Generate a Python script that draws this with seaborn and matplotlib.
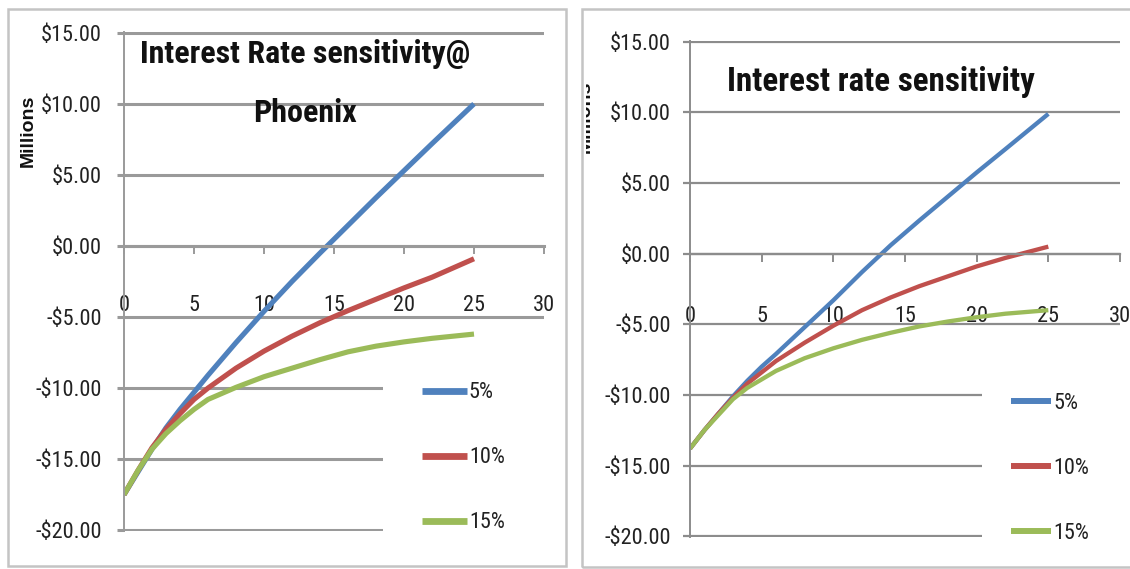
import matplotlib
matplotlib.use("Agg")
import matplotlib.pyplot as plt
import pandas as pd
import seaborn as sns
from matplotlib.lines import Line2D
from matplotlib.patches import Rectangle
from matplotlib.ticker import FuncFormatter, MultipleLocator
from matplotlib.transforms import Bbox

# Years on the horizontal axis
years = [0, 1, 2, 3, 4, 5, 6, 8, 10, 12, 14, 16, 18, 20, 22, 25]
rates = ["5%", "10%", "15%"]
colors = ["#4F81BD", "#C0504D", "#9BBB59"]

# Phoenix (millions of dollars)
phx_5 = [-17.5, -15.9, -14.3, -12.8, -11.5, -10.3, -9.1, -6.8, -4.6, -2.5, -0.5, 1.45, 3.4, 5.3, 7.2, 10.0]
phx_10 = [-17.5, -15.8, -14.2, -12.9, -11.8, -10.8, -10.0, -8.6, -7.4, -6.35, -5.4, -4.55, -3.75, -2.95, -2.2, -0.9]
phx_15 = [-17.5, -15.8, -14.3, -13.2, -12.3, -11.5, -10.8, -9.95, -9.2, -8.6, -8.0, -7.45, -7.05, -6.75, -6.5, -6.2]

# General case (millions of dollars)
gen_5 = [-13.8, -12.5, -11.3, -10.1, -9.0, -8.0, -7.1, -5.2, -3.3, -1.3, 0.6, 2.35, 4.05, 5.75, 7.4, 9.9]
gen_10 = [-13.8, -12.5, -11.3, -10.2, -9.2, -8.4, -7.6, -6.3, -5.1, -4.0, -3.1, -2.3, -1.6, -0.9, -0.3, 0.5]
gen_15 = [-13.8, -12.5, -11.4, -10.3, -9.5, -8.9, -8.3, -7.4, -6.7, -6.1, -5.6, -5.15, -4.8, -4.5, -4.25, -4.0]

titles = ["Interest Rate sensitivity@\nPhoenix", "Interest rate sensitivity"]
ylabel = "Millions"


def long_frame(series):
    rows = []
    for rate, vals in zip(rates, series):
        for yr, v in zip(years, vals):
            rows.append({"year": yr, "value": v, "rate": rate})
    return pd.DataFrame(rows)


sns.set_theme(style="white")
narrow = ["Roboto Condensed", "Liberation Sans Narrow", "Liberation Sans", "DejaVu Sans"]
plt.rcParams["font.family"] = narrow

W, H = 1130, 569
fig = plt.figure(figsize=(W / 100, H / 100), dpi=100)
renderer = fig.canvas.get_renderer()


def px_rect(x0, y0, x1, y1):
    """Pixel box (top-left origin) -> figure fraction [l, b, w, h]."""
    return [x0 / W, 1 - y1 / H, (x1 - x0) / W, (y1 - y0) / H]


def money(v, pos):
    return f"-${abs(v):.2f}" if v < -1e-9 else f"${abs(v):.2f}"


def fit_width(text, target_px):
    """Scale a text's font size so its widest line spans target_px."""
    for _ in range(3):
        w = text.get_window_extent(renderer).width
        text.set_fontsize(text.get_fontsize() * target_px / w)


def panel(rect, series, title, cfg):
    ax = fig.add_axes(rect)
    df = long_frame(series)
    sns.lineplot(data=df, x="year", y="value", hue="rate", hue_order=rates,
                 palette=colors, linewidth=cfg["lw"], ax=ax, legend=False,
                 solid_capstyle="butt", zorder=2)
    ax.set_xlim(0, 30)
    ax.set_ylim(-20.06, 15.06)
    ax.set_xlabel("")
    ax.set_ylabel("")
    ax.xaxis.set_major_locator(MultipleLocator(5))
    ax.yaxis.set_major_locator(MultipleLocator(5))
    ax.yaxis.set_major_formatter(FuncFormatter(money))
    ax.grid(axis="y", color=cfg["grid"], linewidth=cfg["glw"])
    ax.grid(axis="x", visible=False)
    for s in ("top", "right"):
        ax.spines[s].set_visible(False)
    ax.spines["bottom"].set_position(("data", 0))
    ax.spines["bottom"].set_color(cfg["grid"])
    ax.spines["bottom"].set_linewidth(cfg["glw"])
    ax.spines["left"].set_color(cfg["grid"])
    ax.spines["left"].set_linewidth(1.4)
    ax.tick_params(axis="x", direction="out", length=6, width=1.4,
                   color=cfg["grid"], pad=cfg["xpad"], labelsize=cfg["fs"],
                   labelcolor="#222222", bottom=True)
    ax.tick_params(axis="y", direction="out", length=5, width=cfg["glw"],
                   color=cfg["grid"], pad=cfg["ypad"], labelsize=cfg["fs"],
                   labelcolor="#222222", left=True)

    # white block behind the legend (covers the gridlines, not the curves)
    ax.add_patch(Rectangle((cfg["box_x"], -0.1), 1.2, cfg["box_top"] + 0.1,
                           transform=ax.transAxes, facecolor="white",
                           edgecolor="none", clip_on=False, zorder=1))
    handles = [Line2D([], [], color=c, linewidth=cfg["lw"] + 1.2,
                      solid_capstyle="butt") for c in colors]
    leg = ax.legend(handles, rates, loc="upper left",
                    bbox_to_anchor=cfg["leg_anchor"], frameon=False,
                    fontsize=cfg["fs"], borderpad=0, borderaxespad=0,
                    handlelength=cfg["hl"], handletextpad=0.1,
                    labelspacing=cfg["ls"])
    leg.set_zorder(5)
    for t in leg.get_texts():
        t.set_color("#222222")

    t = ax.text(cfg["title_xy"][0], cfg["title_xy"][1], title,
                transform=ax.transAxes, ha="center", va="center",
                fontsize=20, fontweight="bold", color="#111111",
                linespacing=cfg["tls"], zorder=6)
    fit_width(t, cfg["title_w"])
    return ax


left_cfg = dict(lw=3.7, grid="#9a9a9a", glw=2.2, fs=16, xpad=29, ypad=11,
                box_x=0.617, box_top=0.37, leg_anchor=(0.71, 0.298),
                hl=2.0, ls=1.98, title_xy=(0.431, 0.897), title_w=330, tls=2.2)
right_cfg = dict(lw=3.1, grid="#8c8c8c", glw=1.6, fs=16, xpad=32, ypad=9,
                 box_x=0.679, box_top=0.36, leg_anchor=(0.747, 0.291),
                 hl=1.8, ls=1.98, title_xy=(0.444, 0.917), title_w=308, tls=1.2)

ax_l = panel(px_rect(124, 32, 544, 531), [phx_5, phx_10, phx_15], titles[0], left_cfg)
ax_r = panel(px_rect(690, 41, 1120, 537), [gen_5, gen_10, gen_15], titles[1], right_cfg)

# axis captions
bold_sans = ["Liberation Sans", "DejaVu Sans"]
fig.text(28 / W, 1 - 131 / H, ylabel, rotation=90, ha="center", va="center",
         fontsize=14, fontweight="bold", color="#111111", family=bold_sans)
cut = fig.text(585 / W, 1 - 117 / H, ylabel, rotation=90, ha="center", va="center",
               fontsize=14, fontweight="bold", color="#111111", family=bold_sans)
cut.set_clip_box(Bbox.from_extents(586, 0, W, H))
cut.set_clip_on(True)

# chart borders
for x0, y0, x1, y1 in [(8, 9, 566, 566), (582, 9, 1136, 567)]:
    l, b, w, h = px_rect(x0, y0, x1, y1)
    fig.add_artist(Rectangle((l, b), w, h, transform=fig.transFigure,
                             facecolor="none", edgecolor="#c4c4c4",
                             linewidth=1.8, zorder=5))

fig.savefig("out.png", dpi=100)
